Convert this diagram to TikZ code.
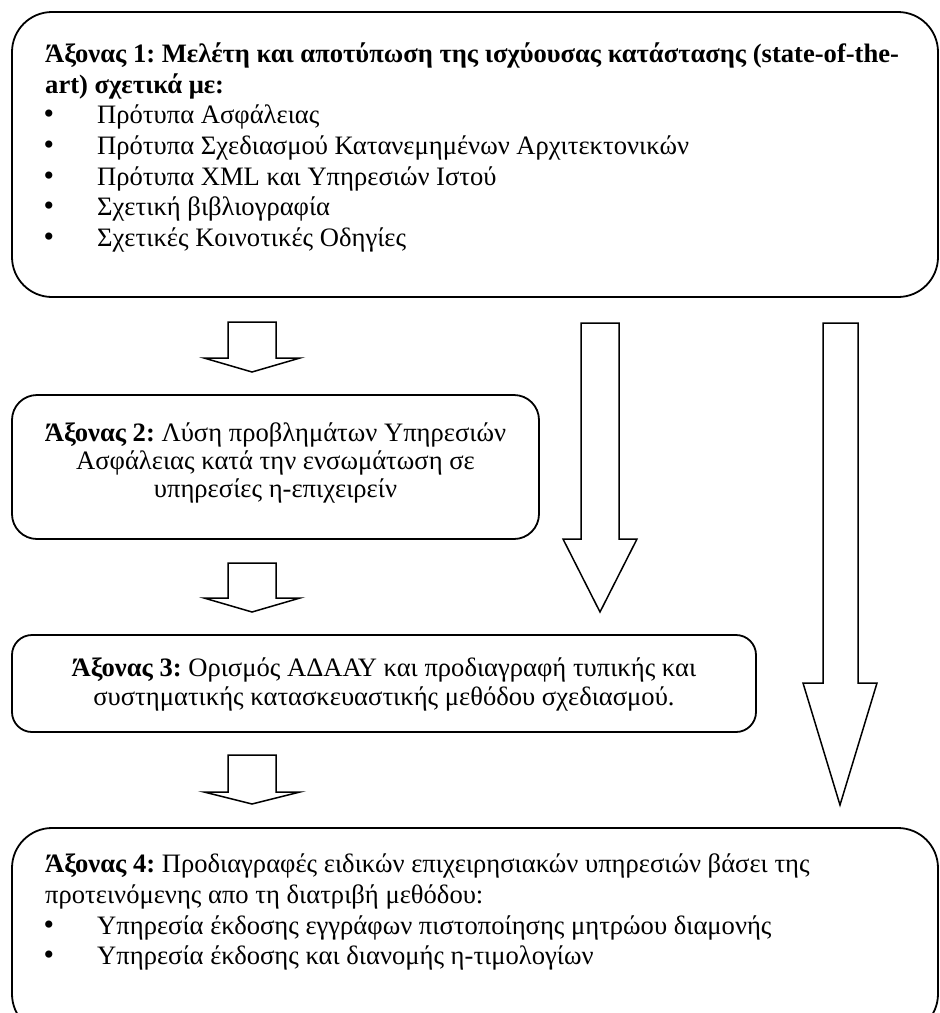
\documentclass[tikz,border=0pt]{standalone}
\usepackage{fontspec}
\setmainfont{Liberation Serif}
\frenchspacing
\begin{document}
\begin{tikzpicture}[x=1pt,y=-1pt,
  frame/.style={draw=black,line width=1.8pt},
  blockarrow/.style={draw=black,line width=1.5pt,line join=miter,fill=white},
  txt/.style={inner sep=0pt,anchor=base west,font=\fontsize{26.6}{30}\selectfont},
  ctxt/.style={inner sep=0pt,anchor=base,font=\fontsize{26.6}{30}\selectfont},
  bul/.style={inner sep=0pt,anchor=base,font=\fontsize{30}{30}\selectfont}]
\useasboundingbox (0,0) rectangle (940,1013);
\fill[white] (0,0) rectangle (940,1013);
\begin{scope}
\clip (0,0) rectangle (940,1013);

% ---- Axis 1 ----
\draw[frame,rounded corners=40pt] (12,12) rectangle (938,297);
\node[txt] (a1l1) at (45,62) {\textbf{Άξονας 1: Μελέτη και αποτύπωση της ισχύουσας κατάστασης (state-of-the-}};
\node[txt] (a1l2) at (45,93) {\textbf{art) σχετικά με:}};
\foreach \y/\t [count=\i] in {123.5/Πρότυπα Ασφάλειας,
  154/Πρότυπα Σχεδιασμού Κατανεμημένων Αρχιτεκτονικών,
  185/Πρότυπα XML και Υπηρεσιών Ιστού,
  215.5/Σχετική βιβλιογραφία,
  246/Σχετικές Κοινοτικές Οδηγίες}{
  \node[bul] (a1b\i) at (49,\y) {\textbullet};
  \node[txt] (a1i\i) at (97,\y) {\t};
}

% ---- Axis 2 ----
\draw[frame,rounded corners=25pt] (12,395) rectangle (539,539);
\node[ctxt] (a2l1) at (275.5,441) {\textbf{Άξονας 2:} Λύση προβλημάτων Υπηρεσιών};
\node[ctxt] (a2l2) at (275.5,469) {Ασφάλειας κατά την ενσωμάτωση σε};
\node[ctxt] (a2l3) at (275.5,497) {υπηρεσίες η-επιχειρείν};

% ---- Axis 3 ----
\draw[frame,rounded corners=20pt] (12,635) rectangle (756,732);
\node[ctxt] (a3l1) at (384,676) {\textbf{Άξονας 3:} Ορισμός ΑΔΑΑΥ και προδιαγραφή τυπικής και};
\node[ctxt] (a3l2) at (384,705) {συστηματικής κατασκευαστικής μεθόδου σχεδιασμού.};

% ---- Axis 4 ----
\draw[frame,rounded corners=40pt] (12,828) rectangle (938,1034);
\node[txt] (a4l1) at (45,872) {\textbf{Άξονας 4:} Προδιαγραφές ειδικών επιχειρησιακών υπηρεσιών βάσει της};
\node[txt] (a4l2) at (45,903) {προτεινόμενης απο τη διατριβή μεθόδου:};
\node[bul] (a4b1) at (49,934) {\textbullet};
\node[txt] (a4i1) at (97,934) {Υπηρεσία έκδοσης εγγράφων πιστοποίησης μητρώου διαμονής};
\node[bul] (a4b2) at (49,964) {\textbullet};
\node[txt] (a4i2) at (97,964) {Υπηρεσία έκδοσης και διανομής η-τιμολογίων};

% ---- short block arrows between consecutive axes ----
\foreach \top/\base/\tip in {322/358/372, 563/598/612, 755/792/804}{
  \draw[blockarrow] (228,\top) -- (276,\top) -- (276,\base) -- (300,\base)
     -- (252,\tip) -- (204,\base) -- (228,\base) -- cycle;
}

% ---- long block arrows ----
\draw[blockarrow] (581,323) -- (619,323) -- (619,539) -- (637,539)
   -- (600,612) -- (563,539) -- (581,539) -- cycle;
\draw[blockarrow] (823,323) -- (858,323) -- (858,683) -- (877,683)
   -- (840,805) -- (803,683) -- (823,683) -- cycle;
\end{scope}
\end{tikzpicture}
\end{document}
